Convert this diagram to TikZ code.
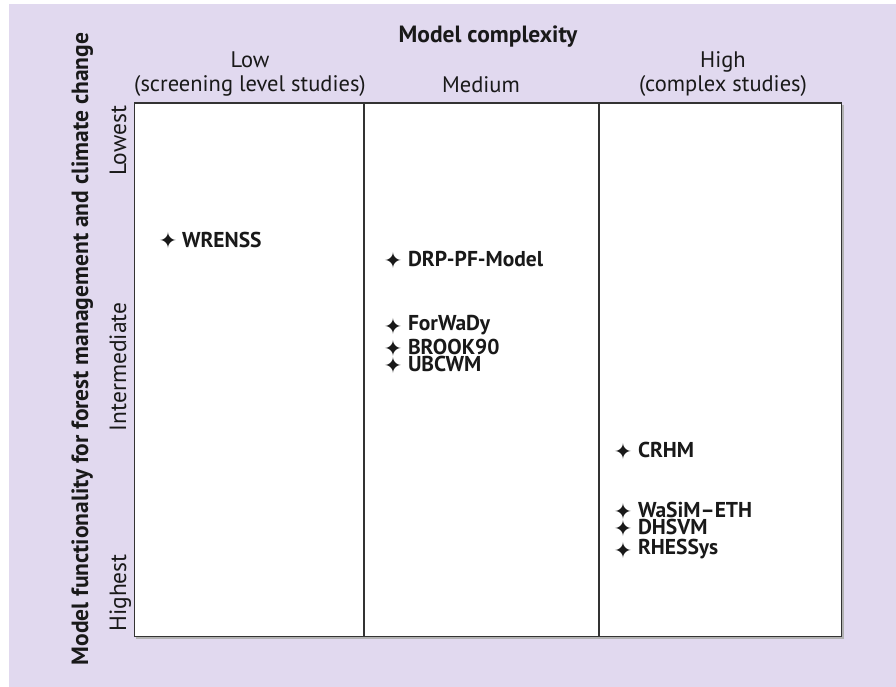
\documentclass[tikz,border=0pt]{standalone}
\usepackage{fontspec}
\setmainfont{PT Sans}
\newfontfamily\symfont{DejaVu Sans}
\definecolor{bgpurple}{HTML}{E1D9EF}
\definecolor{frame}{HTML}{333333}
\begin{document}
\begin{tikzpicture}[x=1pt,y=-1pt,
  every node/.style={inner sep=0pt, outer sep=0pt, text=black!90},
  head/.style={font=\fontsize{22.5}{24}\selectfont, align=center},
  bhead/.style={font=\fontsize{23.5}{24}\selectfont\bfseries},
  side/.style={font=\fontsize{23.5}{24}\selectfont, rotate=90},
  model/.style={font=\fontsize{21.5}{20}\selectfont\bfseries, anchor=west},
  star/.style={font=\fontsize{22}{20}\selectfont\symfont},
  boxline/.style={draw=frame, line width=1.6pt}]
\useasboundingbox (0,0) rectangle (896,687);
\fill[white] (0,0) rectangle (896,687);
\fill[bgpurple] (9,4) rectangle (896,687);
% shadow
\draw[black!30, line width=1.2pt] (843,105) -- (843,638) -- (136,638);
\draw[boxline, fill=white] (134.5,103) rectangle (841.5,636.5);
\draw[boxline] (364,103) -- (364,636.5);
\draw[boxline] (599,103) -- (599,636.5);
% column headers
\node[bhead, anchor=base] (title) at (488,43) {Model complexity};
\node[head, anchor=base] (low) at (250,68) {Low};
\node[head, anchor=base] (lowsub) at (250,92) {(screening level studies)};
\node[head, anchor=base] (med) at (481,93) {Medium};
\node[head, anchor=base] (high) at (723,68) {High};
\node[head, anchor=base] (highsub) at (723,92) {(complex studies)};
% row labels
\node[side, anchor=base] (lowest) at (126,141) {Lowest};
\node[side, anchor=base] (inter) at (126,367) {Intermediate};
\node[side, anchor=base] (highest) at (126,593) {Highest};
\node[bhead, rotate=90, anchor=base] (ytitle) at (88,349) {Model functionality for forest management and climate change};
% models
\node[star] (s1) at (168,240) {✦};
\node[model] (m1) at (182,240) {WRENSS};
\node[star] (s2) at (393,260) {✦};
\node[model] (m2) at (408,259) {DRP-PF-Model};
\node[star] (s3) at (393,326) {✦};
\node[model] (m3) at (408,325) {ForWaDy};
\node[star] (s4) at (393,348) {✦};
\node[model] (m4) at (408,347) {BROOK90};
\node[star] (s5) at (393,365) {✦};
\node[model] (m5) at (408,364) {UBCWM};
\node[star] (s6) at (623,451) {✦};
\node[model] (m6) at (638,450) {CRHM};
\node[star] (s7) at (623,511) {✦};
\node[model] (m7) at (638,510) {WaSiM–ETH};
\node[star] (s8) at (623,528) {✦};
\node[model] (m8) at (638,527) {DHSVM};
\node[star] (s9) at (623,550) {✦};
\node[model] (m9) at (638,549) {RHESSys};
\end{tikzpicture}
\end{document}
